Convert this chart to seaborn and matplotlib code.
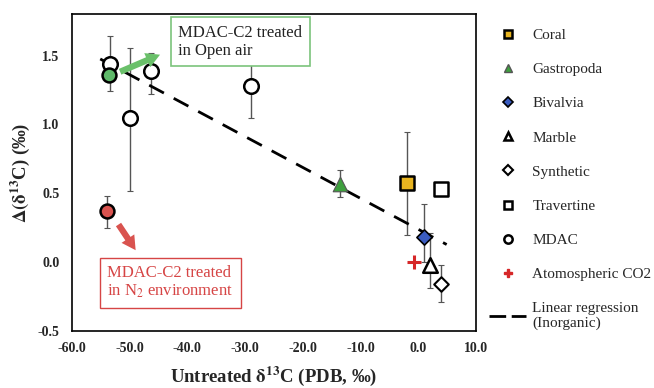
import numpy as np
import pandas as pd
import matplotlib
matplotlib.use("Agg")
import matplotlib.pyplot as plt
from matplotlib.lines import Line2D
import seaborn as sns

# data
groups = ["Coral", "Gastropoda", "Bivalvia", "Marble", "Synthetic", "Travertine",
          "MDAC", "MDAC", "MDAC", "MDAC", "MDAC_open", "MDAC_n2", "Atmo"]
x_vals = [-1.9, -13.5, 1.0, 2.0, 4.0, 4.0, -53.4, -50.0, -46.3, -29.0, -53.6, -53.9, -0.8]
y_vals = [0.575, 0.57, 0.18, -0.02, -0.16, 0.53, 1.44, 1.045, 1.39, 1.28, 1.36, 0.37, 0.0]
err_lo = [0.38, 0.10, 0.18, 0.17, 0.13, 0.03, 0.20, 0.53, 0.17, 0.23, 0.0, 0.125, 0.0]
err_hi = [0.37, 0.10, 0.24, 0.23, 0.14, 0.02, 0.20, 0.51, 0.13, 0.21, 0.0, 0.11, 0.0]

reg_x = [-55.1, 4.9]
reg_y = [1.476, 0.128]

df = pd.DataFrame({"group": groups, "x": x_vals, "y": y_vals, "lo": err_lo, "hi": err_hi})

styles = {
    "Coral":      dict(marker="s", s=110, color="#e8b420", edgecolor="black", linewidth=1.8),
    "Gastropoda": dict(marker="^", s=110, color="#3ea03e", edgecolor="#555555", linewidth=0.8),
    "Bivalvia":   dict(marker="D", s=60, color="#3a5cc0", edgecolor="black", linewidth=1.2),
    "Marble":     dict(marker="^", s=110, color="white", edgecolor="black", linewidth=1.8),
    "Synthetic":  dict(marker="D", s=55, color="white", edgecolor="black", linewidth=1.5),
    "Travertine": dict(marker="s", s=100, color="white", edgecolor="black", linewidth=1.8),
    "MDAC":       dict(marker="o", s=110, color="white", edgecolor="black", linewidth=1.8),
    "MDAC_open":  dict(marker="o", s=100, color="#5fba6a", edgecolor="black", linewidth=1.8),
    "MDAC_n2":    dict(marker="o", s=100, color="#d9534f", edgecolor="black", linewidth=1.8),
}

sns.set_style("white")
plt.rcParams["font.family"] = ["Liberation Serif", "DejaVu Serif"]
plt.rcParams["mathtext.fontset"] = "stix"

fig, ax = plt.subplots(figsize=(6.54, 3.88), dpi=100)
fig.subplots_adjust(left=0.11, right=0.728, top=0.963, bottom=0.147)

# error bars
ax.errorbar(df["x"], df["y"], yerr=[df["lo"], df["hi"]], fmt="none",
            ecolor="#555555", elinewidth=1.0, capsize=2.5, capthick=0.8, zorder=2)

# regression line
sns.lineplot(x=reg_x, y=reg_y, color="black", linestyle=(0, (6, 4)), linewidth=2.0, ax=ax, zorder=3)

# points
for g, st in styles.items():
    sub = df[df["group"] == g]
    sns.scatterplot(x=sub["x"], y=sub["y"], ax=ax, zorder=4, legend=False, **st)
atmo = df[df["group"] == "Atmo"]
ax.plot(atmo["x"], atmo["y"], marker="+", markersize=10, markeredgewidth=2.2,
        color="#d62728", linestyle="none", zorder=4)

ax.set_xlim(-60, 10)
ax.set_ylim(-0.5, 1.8)
xt = np.arange(-60, 11, 10)
yt = [-0.5, 0.0, 0.5, 1.0, 1.5]
ax.set_xticks(xt)
ax.set_yticks(yt)
ax.set_xticklabels([f"{v:.1f}" for v in xt])
ax.set_yticklabels([f"{v:.1f}" for v in yt])
ax.tick_params(direction="in", length=4, width=1, labelsize=10)
ax.tick_params(axis="x", pad=8)
ax.tick_params(axis="y", pad=9)
for lab in ax.get_xticklabels() + ax.get_yticklabels():
    lab.set_fontweight("bold")
for sp in ax.spines.values():
    sp.set_linewidth(1.2)
    sp.set_color("black")

ax.set_xlabel(r"Untreated $\mathbf{\delta^{13}}$C (PDB, ‰)", fontsize=13.5, fontweight="bold", labelpad=7)
ax.set_ylabel(r"$\mathbf{\Delta(\delta^{13}}$C) (‰)", fontsize=13.5, fontweight="bold", labelpad=4)

# annotations
ax.text(-41.6, 1.60, "MDAC-C2 treated\nin Open air", fontsize=12, color="#222222",
        va="center", ha="left", linespacing=1.15,
        bbox=dict(boxstyle="square,pad=0.45", fc="white", ec="#7cc47c", lw=1.2), zorder=5)
ax.annotate("", xy=(-44.3, 1.515), xytext=(-52.1, 1.375),
            arrowprops=dict(arrowstyle="simple,head_width=1.1,head_length=1.0,tail_width=0.45",
                            color="#6ac06a", lw=0), zorder=5)
ax.text(-53.9, -0.15, "MDAC-C2 treated\nin N$_2$ environment", fontsize=12, color="#d64545",
        va="center", ha="left", linespacing=1.15,
        bbox=dict(boxstyle="square,pad=0.45", fc="white", ec="#d64545", lw=1.0), zorder=5)
ax.annotate("", xy=(-48.7, 0.07), xytext=(-52.2, 0.29),
            arrowprops=dict(arrowstyle="simple,head_width=1.1,head_length=1.0,tail_width=0.45",
                            color="#d9534f", lw=0), zorder=5)

# legend
legend_names = ["Coral", "Gastropoda", "Bivalvia", "Marble", "Synthetic", "Travertine", "MDAC"]
handles = []
for n in legend_names:
    st = styles[n]
    handles.append(Line2D([], [], marker=st["marker"], linestyle="none",
                          markerfacecolor=st["color"], markeredgecolor=st["edgecolor"],
                          markeredgewidth=max(st["linewidth"], 1.0),
                          markersize=5 if n in ("Bivalvia", "Synthetic") else 6,
                          label=n))
handles.append(Line2D([], [], marker="P", linestyle="none", color="#d62728",
                      markeredgecolor="#d62728", markersize=6, label="Atomospheric CO2"))
handles.append(Line2D([], [], color="black", linestyle=(0, (6, 2)), linewidth=2.0,
                      label="Linear regression\n(Inorganic)"))
leg = ax.legend(handles=handles, loc="upper left", bbox_to_anchor=(1.018, 0.975), frameon=False,
                fontsize=11, handlelength=2.4, handletextpad=0.4, labelspacing=1.34, borderaxespad=0)

plt.savefig("out.png", dpi=100)
